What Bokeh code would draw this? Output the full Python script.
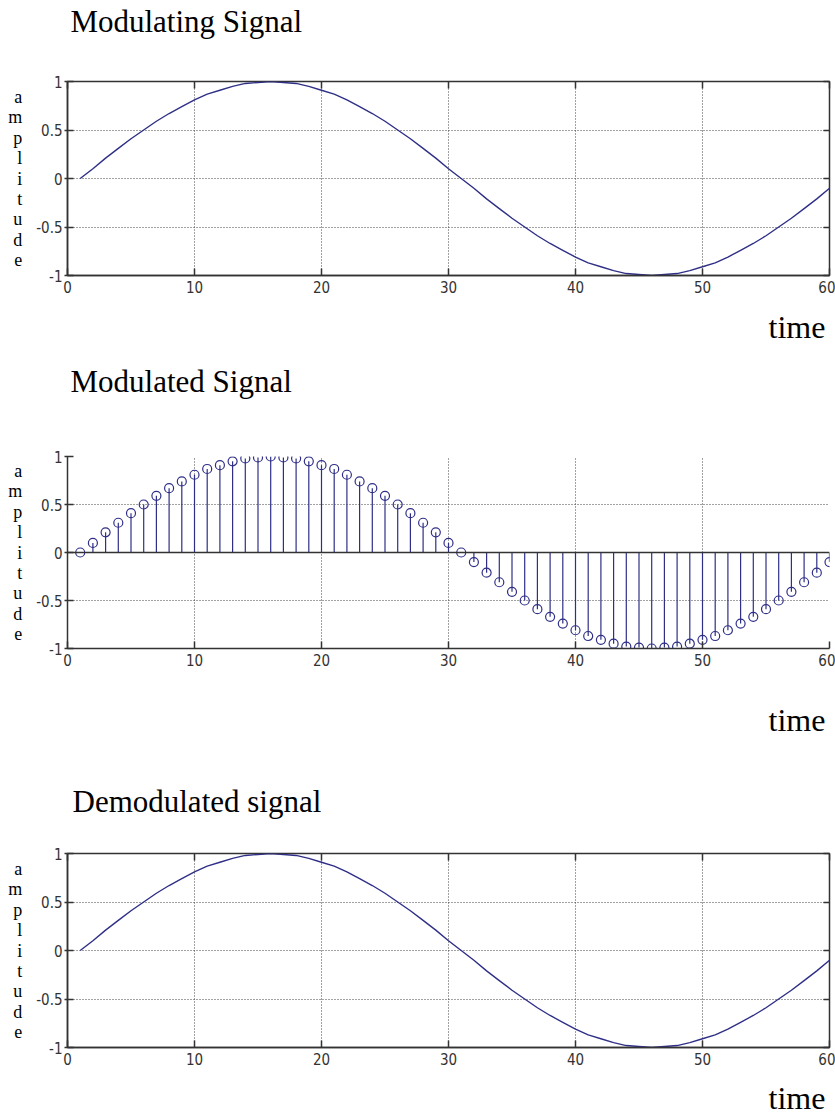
from bokeh.plotting import figure
from bokeh.layouts import column
from bokeh.models import LinearAxis, Range1d, Span, ColumnDataSource, FixedTicker
from bokeh.embed import file_html
from bokeh.resources import INLINE

# ---- data ----
time_samples = list(range(1, 61))
modulating = [0.00, 0.10, 0.21, 0.31, 0.41, 0.50, 0.59, 0.67, 0.74, 0.81,
              0.87, 0.91, 0.95, 0.98, 0.99, 1.00, 0.99, 0.98, 0.95, 0.91,
              0.87, 0.81, 0.74, 0.67, 0.59, 0.50, 0.41, 0.31, 0.21, 0.10,
              0.00, -0.10, -0.21, -0.31, -0.41, -0.50, -0.59, -0.67, -0.74, -0.81,
              -0.87, -0.91, -0.95, -0.98, -0.99, -1.00, -0.99, -0.98, -0.95, -0.91,
              -0.87, -0.81, -0.74, -0.67, -0.59, -0.50, -0.41, -0.31, -0.21, -0.10]
modulated = [0.00, 0.10, 0.21, 0.31, 0.41, 0.50, 0.59, 0.67, 0.74, 0.81,
             0.87, 0.91, 0.95, 0.98, 0.99, 1.00, 0.99, 0.98, 0.95, 0.91,
             0.87, 0.81, 0.74, 0.67, 0.59, 0.50, 0.41, 0.31, 0.21, 0.10,
             0.00, -0.10, -0.21, -0.31, -0.41, -0.50, -0.59, -0.67, -0.74, -0.81,
             -0.87, -0.91, -0.95, -0.98, -0.99, -1.00, -0.99, -0.98, -0.95, -0.91,
             -0.87, -0.81, -0.74, -0.67, -0.59, -0.50, -0.41, -0.31, -0.21, -0.10]
demodulated = [0.00, 0.10, 0.21, 0.31, 0.41, 0.50, 0.59, 0.67, 0.74, 0.81,
               0.87, 0.91, 0.95, 0.98, 0.99, 1.00, 0.99, 0.98, 0.95, 0.91,
               0.87, 0.81, 0.74, 0.67, 0.59, 0.50, 0.41, 0.31, 0.21, 0.10,
               0.00, -0.10, -0.21, -0.31, -0.41, -0.50, -0.59, -0.67, -0.74, -0.81,
               -0.87, -0.91, -0.95, -0.98, -0.99, -1.00, -0.99, -0.98, -0.95, -0.91,
               -0.87, -0.81, -0.74, -0.67, -0.59, -0.50, -0.41, -0.31, -0.21, -0.10]
x_ticks = [0, 10, 20, 30, 40, 50, 60]
y_ticks = [-1, -0.5, 0, 0.5, 1]
y_tick_labels = {-1: "-1", -0.5: "-0.5", 0: "0", 0.5: "0.5", 1: "1"}
titles = ["Modulating Signal", "Modulated Signal", "Demodulated signal"]
x_label = "time"
y_label = "amplitude"

# text anchors (centre of each text along the time axis) — layout only
title_anchor = [9.35, 8.95, 10.19]
time_anchor = 57.44

SERIF = "Liberation Serif"
TICKFONT = "Liberation Sans Narrow, DejaVu Sans Condensed, sans-serif"
NAVY = "#2f2f88"
AXIS = "#333333"


def text_axis(anchor, text, size, standoff, minor=None):
    """An axis with no visible rule whose single tick label is a free-standing text."""
    return LinearAxis(ticker=FixedTicker(ticks=[anchor], minor_ticks=minor or []),
                      major_label_overrides={anchor: text},
                      major_label_text_font=SERIF, major_label_text_font_size=size,
                      major_label_text_color="black", major_label_standoff=standoff,
                      axis_line_color=None, major_tick_line_color=None,
                      major_tick_in=0, major_tick_out=0,
                      minor_tick_in=7, minor_tick_out=0,
                      minor_tick_line_color=AXIS if minor else None,
                      minor_tick_line_width=1.5)


def make_panel(idx, values, kind, b_top, frame_h, b_bottom, title_gap, time_gap):
    p = figure(width=835, height=b_top + frame_h + b_bottom,
               output_backend="svg", toolbar_location=None,
               x_range=Range1d(0, 60), y_range=Range1d(-1, 1),
               min_border_left=67, min_border_right=6,
               min_border_top=b_top, min_border_bottom=b_bottom,
               background_fill_color="white", border_fill_color="white")

    # bottom axis
    xa = p.xaxis[0]
    xa.ticker = x_ticks
    xa.minor_tick_line_color = None
    xa.major_tick_in = 7
    xa.major_tick_out = 0
    xa.axis_line_color = AXIS
    xa.axis_line_width = 1.5
    xa.major_tick_line_color = AXIS
    xa.major_tick_line_width = 1.5
    xa.major_label_text_font = TICKFONT
    xa.major_label_text_font_size = "15px"
    xa.major_label_text_color = "#333333"
    xa.major_label_standoff = 5

    # left axis
    ya = p.yaxis[0]
    ya.ticker = y_ticks
    ya.major_label_overrides = y_tick_labels
    ya.minor_tick_line_color = None
    ya.major_tick_in = 6
    ya.major_tick_out = 3
    ya.axis_line_color = AXIS
    ya.axis_line_width = 1.5
    ya.major_tick_line_color = AXIS
    ya.major_tick_line_width = 1.5
    ya.major_label_text_font = TICKFONT
    ya.major_label_text_font_size = "15px"
    ya.major_label_text_color = "#333333"
    ya.major_label_standoff = 2
    ya.axis_label = "\n".join(list(y_label))
    ya.axis_label_orientation = "horizontal"
    ya.axis_label_text_font = SERIF
    ya.axis_label_text_font_size = "18px"
    ya.axis_label_text_font_style = "normal"
    ya.axis_label_text_color = "black"
    ya.axis_label_text_line_height = 1.02
    ya.axis_label_text_align = "center"
    ya.axis_label_standoff = 11

    # grid
    p.xgrid.ticker = x_ticks
    p.ygrid.ticker = y_ticks
    for g in (p.xgrid[0], p.ygrid[0]):
        g.grid_line_color = "#444444"
        g.grid_line_dash = "1 2"
        g.grid_line_width = 1

    boxed = kind == "line"
    # title above (with inward top ticks on boxed panels), "time" below
    p.add_layout(text_axis(title_anchor[idx], titles[idx], "31px", title_gap,
                           minor=x_ticks if boxed else None), "above")
    p.add_layout(text_axis(time_anchor, x_label, "32px", time_gap), "below")

    src = ColumnDataSource(dict(t=time_samples, v=values))
    if boxed:
        p.outline_line_color = AXIS
        p.outline_line_width = 1.5
        ra = LinearAxis(ticker=FixedTicker(ticks=[], minor_ticks=y_ticks),
                        axis_line_color=None, major_tick_in=0, major_tick_out=0,
                        major_tick_line_color=None,
                        minor_tick_in=6, minor_tick_out=0,
                        minor_tick_line_color=AXIS, minor_tick_line_width=1.5,
                        major_label_standoff=0)
        p.add_layout(ra, "right")
        p.line("t", "v", source=src, line_color=NAVY, line_width=1.4)
    else:
        p.outline_line_color = None
        p.add_layout(Span(location=0, dimension="width", line_color=AXIS, line_width=1.5))
        p.segment(x0="t", y0=0, x1="t", y1="v", source=src, line_color=NAVY, line_width=1.2)
        p.scatter("t", "v", source=src, marker="circle", size=9, line_color=NAVY,
                  line_width=1.2, fill_color=None)
    return p


# page rows: fig1 0-360, fig2 360-760, fig3 760-1118
p1 = make_panel(0, modulating, "line", 81, 194, 85, 43, 13)
p2 = make_panel(1, modulated, "stem", 96, 192, 112, 58, 33)
p3 = make_panel(2, demodulated, "line", 93, 194, 71, 35, 12)

layout = column(p1, p2, p3, spacing=0)
open("out.html", "w").write(file_html(layout, INLINE))
